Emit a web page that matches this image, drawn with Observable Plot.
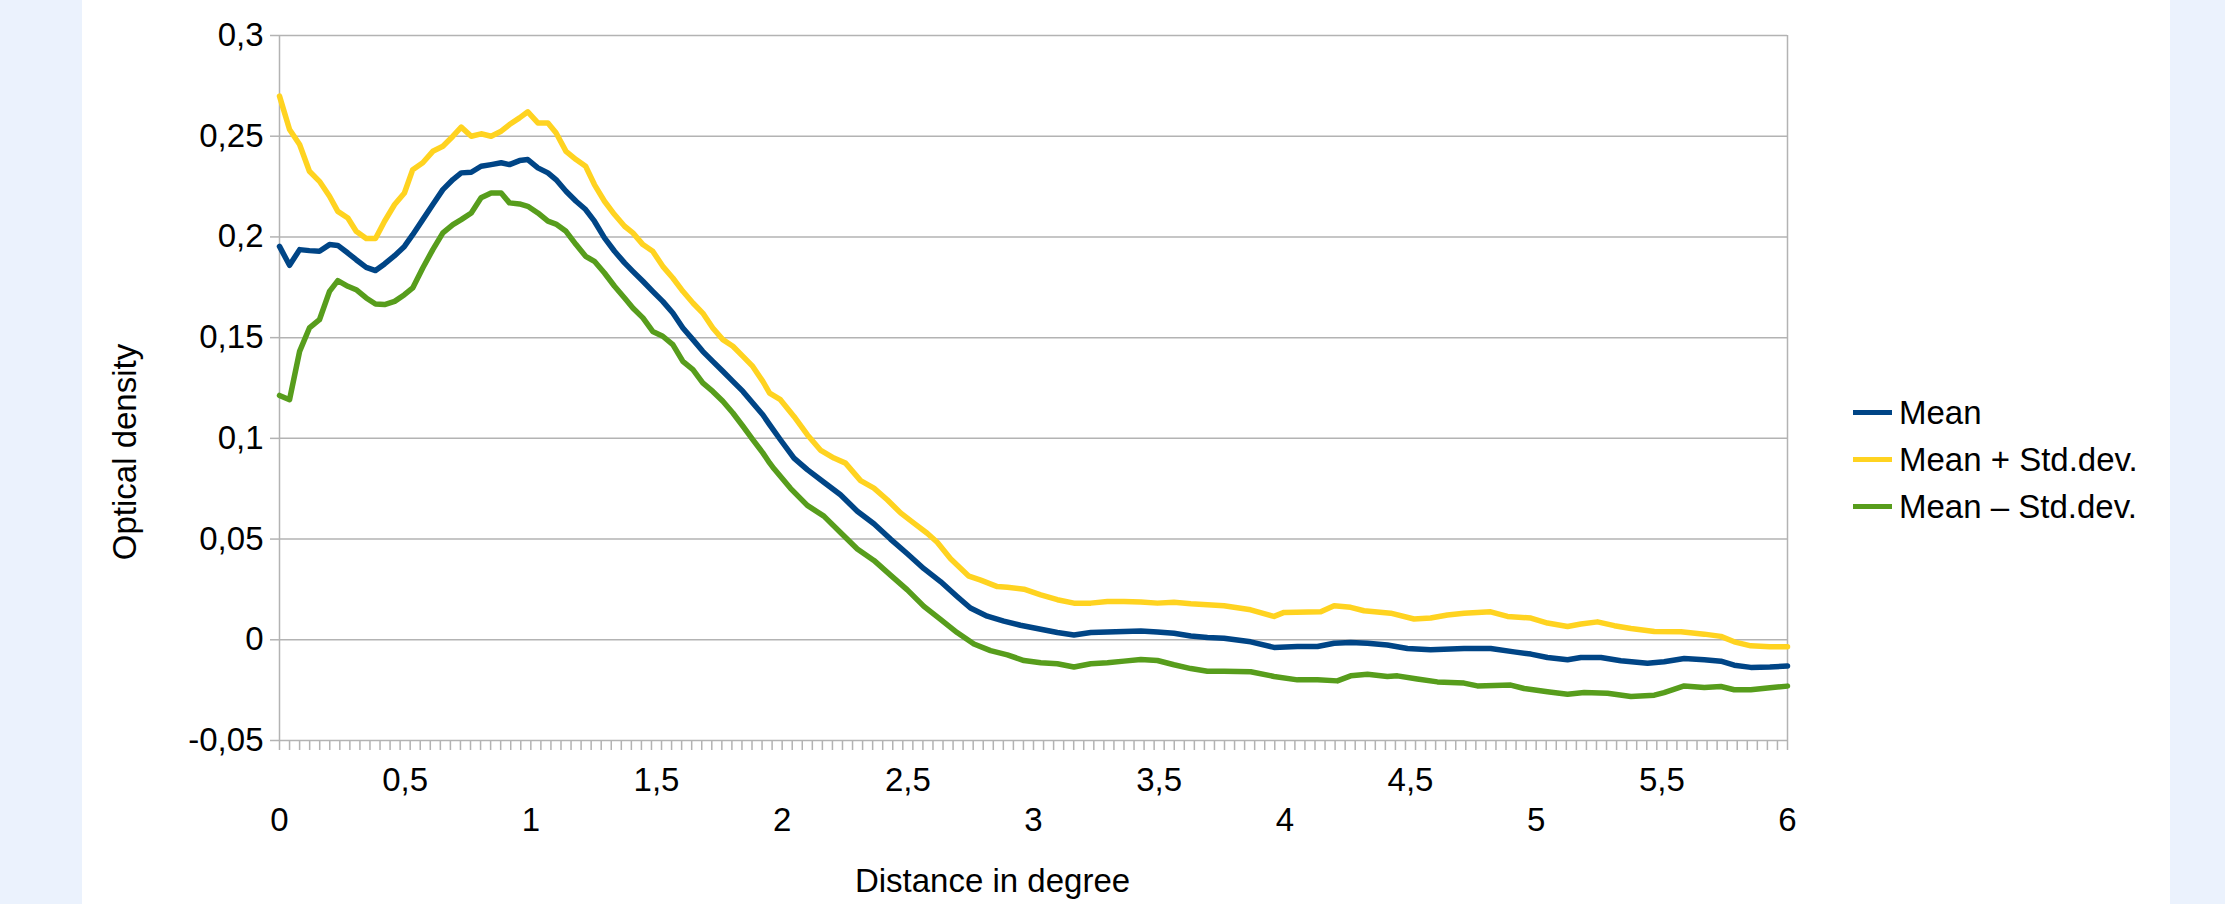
<!DOCTYPE html>
<html><head><meta charset="utf-8">
<script src="https://cdn.jsdelivr.net/npm/d3@7"></script>
<script src="https://cdn.jsdelivr.net/npm/@observablehq/plot@0.6"></script>
<style>
html,body{margin:0;padding:0;background:#ebf2fd;}
#wrap{position:relative;width:2225px;height:904px;}
#legend{position:absolute;left:1853px;top:389px;font-family:"Liberation Sans",Arial,sans-serif;font-size:33px;color:#000;}
.row{display:flex;align-items:center;height:47px;white-space:nowrap;}
.sw{width:39px;height:5px;margin-right:7px;flex:none;}
.row span{line-height:1;}
</style></head><body><div id="wrap"></div>
<script>
// ---- data ----
const seriesNames = ["Mean", "Mean + Std.dev.", "Mean \u2013 Std.dev."];
const seriesColors = ["#004586", "#ffd320", "#579d1c"];

// shared distances for the first part of the curves (degree)
const headDist = [0, 0.04, 0.08, 0.119, 0.159, 0.199, 0.232, 0.272, 0.305, 0.345, 0.382, 0.418, 0.458, 0.497, 0.53, 0.57, 0.61, 0.65, 0.69, 0.723, 0.763, 0.802, 0.842, 0.882, 0.915, 0.955, 0.988, 1.028, 1.068, 1.1, 1.14, 1.18, 1.218, 1.253, 1.293, 1.333, 1.373, 1.406, 1.446, 1.485, 1.525, 1.565, 1.605, 1.645, 1.684, 1.724, 1.764, 1.804, 1.844, 1.883, 1.923, 1.95];

const meanHead = [0.1953, 0.1859, 0.1937, 0.1932, 0.1929, 0.1962, 0.1958, 0.192, 0.1887, 0.1849, 0.1833, 0.1866, 0.1907, 0.1953, 0.2011, 0.2086, 0.2161, 0.2235, 0.2285, 0.2318, 0.2321, 0.2351, 0.2359, 0.2368, 0.2359, 0.2379, 0.2384, 0.2343, 0.2318, 0.2285, 0.2227, 0.2177, 0.2136, 0.2078, 0.1995, 0.1929, 0.1871, 0.1829, 0.178, 0.173, 0.168, 0.1622, 0.1548, 0.149, 0.1432, 0.1382, 0.1333, 0.1283, 0.1233, 0.1175, 0.1117, 0.1068];
const plusHead = [0.2699, 0.2533, 0.2459, 0.2326, 0.2276, 0.2202, 0.2127, 0.2094, 0.2028, 0.1992, 0.1992, 0.2078, 0.2161, 0.2218, 0.2334, 0.2368, 0.2425, 0.245, 0.25, 0.2545, 0.25, 0.2512, 0.25, 0.2525, 0.2558, 0.2591, 0.2621, 0.2566, 0.2566, 0.2517, 0.2425, 0.2384, 0.2351, 0.226, 0.2177, 0.2111, 0.2053, 0.202, 0.1962, 0.1929, 0.1854, 0.1796, 0.173, 0.1672, 0.1622, 0.1548, 0.149, 0.1457, 0.1407, 0.1357, 0.1283, 0.1225];
const minusHead = [0.1213, 0.1192, 0.1432, 0.1548, 0.1589, 0.173, 0.1783, 0.1755, 0.1738, 0.1697, 0.1667, 0.1664, 0.168, 0.1713, 0.1747, 0.1846, 0.1937, 0.202, 0.2061, 0.2086, 0.2119, 0.2194, 0.2218, 0.2218, 0.2169, 0.2164, 0.2152, 0.2119, 0.2078, 0.2064, 0.2028, 0.1962, 0.1904, 0.1879, 0.1821, 0.1755, 0.1697, 0.1647, 0.1598, 0.1531, 0.1507, 0.1465, 0.1382, 0.1341, 0.1275, 0.1233, 0.1184, 0.1126, 0.106, 0.0994, 0.0928, 0.0878];

// tails of each curve
const meanTailDist = [1.993, 2.047, 2.1, 2.166, 2.232, 2.299, 2.365, 2.431, 2.498, 2.564, 2.63, 2.696, 2.749, 2.816, 2.882, 2.948, 3.029, 3.095, 3.161, 3.228, 3.294, 3.36, 3.427, 3.493, 3.559, 3.626, 3.692, 3.758, 3.864, 3.957, 4.05, 4.13, 4.196, 4.262, 4.329, 4.408, 4.488, 4.58, 4.713, 4.819, 4.912, 4.979, 5.045, 5.125, 5.178, 5.258, 5.337, 5.443, 5.509, 5.589, 5.669, 5.735, 5.788, 5.854, 5.93, 6];
const meanTail = [0.0993, 0.0902, 0.0845, 0.0782, 0.072, 0.0638, 0.0576, 0.05, 0.0427, 0.0353, 0.0289, 0.0215, 0.0158, 0.0117, 0.0093, 0.0072, 0.0052, 0.0036, 0.0024, 0.0036, 0.0039, 0.0041, 0.0044, 0.0039, 0.0032, 0.0019, 0.0011, 0.0008, -0.001, -0.0038, -0.0033, -0.0033, -0.0017, -0.0013, -0.0017, -0.0026, -0.0043, -0.005, -0.0043, -0.0043, -0.006, -0.0071, -0.0088, -0.0099, -0.0088, -0.0088, -0.0104, -0.0116, -0.0109, -0.0093, -0.0099, -0.0106, -0.0126, -0.0137, -0.0135, -0.013];

const plusTailDist = [1.993, 2.047, 2.1, 2.152, 2.206, 2.252, 2.312, 2.365, 2.418, 2.471, 2.524, 2.577, 2.617, 2.67, 2.743, 2.79, 2.856, 2.896, 2.962, 3.029, 3.095, 3.161, 3.228, 3.294, 3.36, 3.427, 3.493, 3.559, 3.626, 3.692, 3.758, 3.864, 3.957, 3.997, 4.143, 4.196, 4.262, 4.315, 4.421, 4.514, 4.58, 4.647, 4.713, 4.819, 4.886, 4.979, 5.045, 5.125, 5.178, 5.244, 5.311, 5.377, 5.47, 5.576, 5.669, 5.735, 5.788, 5.854, 5.93, 6];
const plusTail = [0.1192, 0.1109, 0.1018, 0.0942, 0.0902, 0.0877, 0.079, 0.0753, 0.0695, 0.063, 0.0579, 0.0529, 0.0484, 0.0402, 0.0316, 0.0296, 0.0264, 0.0261, 0.0251, 0.0223, 0.0199, 0.0182, 0.0182, 0.019, 0.019, 0.0187, 0.0182, 0.0186, 0.0179, 0.0174, 0.0169, 0.0149, 0.0116, 0.0136, 0.0139, 0.0169, 0.0161, 0.0144, 0.0132, 0.0103, 0.0108, 0.0123, 0.0132, 0.0139, 0.0116, 0.0108, 0.0083, 0.0066, 0.0078, 0.0089, 0.007, 0.0056, 0.0041, 0.004, 0.0028, 0.0017, -0.001, -0.003, -0.0035, -0.0035];

const minusTailDist = [1.967, 2.033, 2.1, 2.166, 2.232, 2.299, 2.365, 2.431, 2.498, 2.564, 2.63, 2.696, 2.763, 2.829, 2.896, 2.962, 3.029, 3.095, 3.161, 3.228, 3.294, 3.36, 3.427, 3.493, 3.559, 3.626, 3.692, 3.758, 3.864, 3.957, 4.05, 4.13, 4.209, 4.262, 4.329, 4.408, 4.448, 4.527, 4.607, 4.713, 4.766, 4.899, 4.952, 5.045, 5.125, 5.191, 5.284, 5.377, 5.47, 5.509, 5.589, 5.669, 5.735, 5.788, 5.854, 5.93, 6];
const minusTail = [0.085, 0.0752, 0.0667, 0.0614, 0.0533, 0.0451, 0.0394, 0.0321, 0.0248, 0.0166, 0.0101, 0.0036, -0.0021, -0.0054, -0.0075, -0.0103, -0.0114, -0.0119, -0.0135, -0.0119, -0.0114, -0.0106, -0.0098, -0.0103, -0.0124, -0.0143, -0.0156, -0.0156, -0.0159, -0.0182, -0.0199, -0.0199, -0.0204, -0.0179, -0.0171, -0.0182, -0.0179, -0.0195, -0.0209, -0.0215, -0.0229, -0.0225, -0.0242, -0.0258, -0.027, -0.0262, -0.0265, -0.0282, -0.0275, -0.0262, -0.0229, -0.0237, -0.0232, -0.0248, -0.0248, -0.0238, -0.023];

// ticks
const yTicks = [-0.05, 0, 0.05, 0.1, 0.15, 0.2, 0.25, 0.3];
const xHalfTicks = [0.5, 1.5, 2.5, 3.5, 4.5, 5.5];
const xIntTicks = [0, 1, 2, 3, 4, 5, 6];
const xMinorStep = 0.04;

// ---- build ----
const fmt = d => String(d).replace(".", ",");
function build(name, hx, hy, tx, ty) {
  const out = [];
  hx.forEach((x, i) => out.push({series: name, x, y: hy[i]}));
  tx.forEach((x, i) => out.push({series: name, x, y: ty[i]}));
  return out;
}
const meanData = build(seriesNames[0], headDist, meanHead, meanTailDist, meanTail);
const plusData = build(seriesNames[1], headDist, plusHead, plusTailDist, plusTail);
const minusData = build(seriesNames[2], headDist, minusHead, minusTailDist, minusTail);
const minorTicks = d3.range(0, 6 + 1e-9, xMinorStep);

const font = "'Liberation Sans', Arial, sans-serif";
const grey = "#b3b3b3";

const chart = Plot.plot({
  width: 2225, height: 904,
  marginLeft: 279, marginRight: 438, marginTop: 35, marginBottom: 164,
  style: {
    background: "linear-gradient(to right,#ebf2fd 0,#ebf2fd 82px,#ffffff 82px,#ffffff 2170px,#ebf2fd 2170px)",
    fontFamily: font, fontSize: "33px", color: "#000", overflow: "visible"
  },
  x: {domain: [0, 6], label: null},
  y: {domain: [-0.05, 0.3], label: null},
  marks: [
    Plot.gridY(yTicks, {stroke: grey, strokeOpacity: 1, strokeWidth: 1.5}),
    Plot.ruleX([0, 6], {stroke: grey, strokeWidth: 1.5}),
    Plot.axisY({ticks: yTicks, tickSize: 9, tickPadding: 7, stroke: grey, strokeWidth: 1.5, fill: "#000", tickFormat: fmt, fontSize: 33, label: null}),
    Plot.axisX({ticks: minorTicks, tickSize: 10, tickFormat: () => "", stroke: grey, strokeWidth: 1.5, label: null}),
    Plot.axisX({ticks: xHalfTicks, tickSize: 0, tickPadding: 27, tickFormat: fmt, fill: "#000", fontSize: 33, label: null}),
    Plot.axisX({ticks: xIntTicks, tickSize: 0, tickPadding: 67, tickFormat: fmt, fill: "#000", fontSize: 33, label: null}),
    Plot.line(plusData, {x: "x", y: "y", stroke: seriesColors[1], strokeWidth: 5.5, strokeLinejoin: "round"}),
    Plot.line(minusData, {x: "x", y: "y", stroke: seriesColors[2], strokeWidth: 5.5, strokeLinejoin: "round"}),
    Plot.line(meanData, {x: "x", y: "y", stroke: seriesColors[0], strokeWidth: 5.5, strokeLinejoin: "round"}),
    Plot.text(["Optical density"], {frameAnchor: "left", text: d => d, rotate: -90, dx: -154, dy: 64, textAnchor: "middle", lineAnchor: "middle", fontSize: 33, fill: "#000"}),
    Plot.text(["Distance in degree"], {frameAnchor: "bottom", text: d => d, dx: -41, dy: 141, textAnchor: "middle", lineAnchor: "middle", fontSize: 33, fill: "#000"})
  ]
});
const wrap = document.getElementById("wrap");
wrap.appendChild(chart);

const legend = document.createElement("div");
legend.id = "legend";
seriesNames.forEach((n, i) => {
  const row = document.createElement("div");
  row.className = "row";
  const sw = document.createElement("div");
  sw.className = "sw";
  sw.style.background = seriesColors[i];
  const t = document.createElement("span");
  t.textContent = n;
  row.appendChild(sw); row.appendChild(t);
  legend.appendChild(row);
});
wrap.appendChild(legend);
</script></body></html>
